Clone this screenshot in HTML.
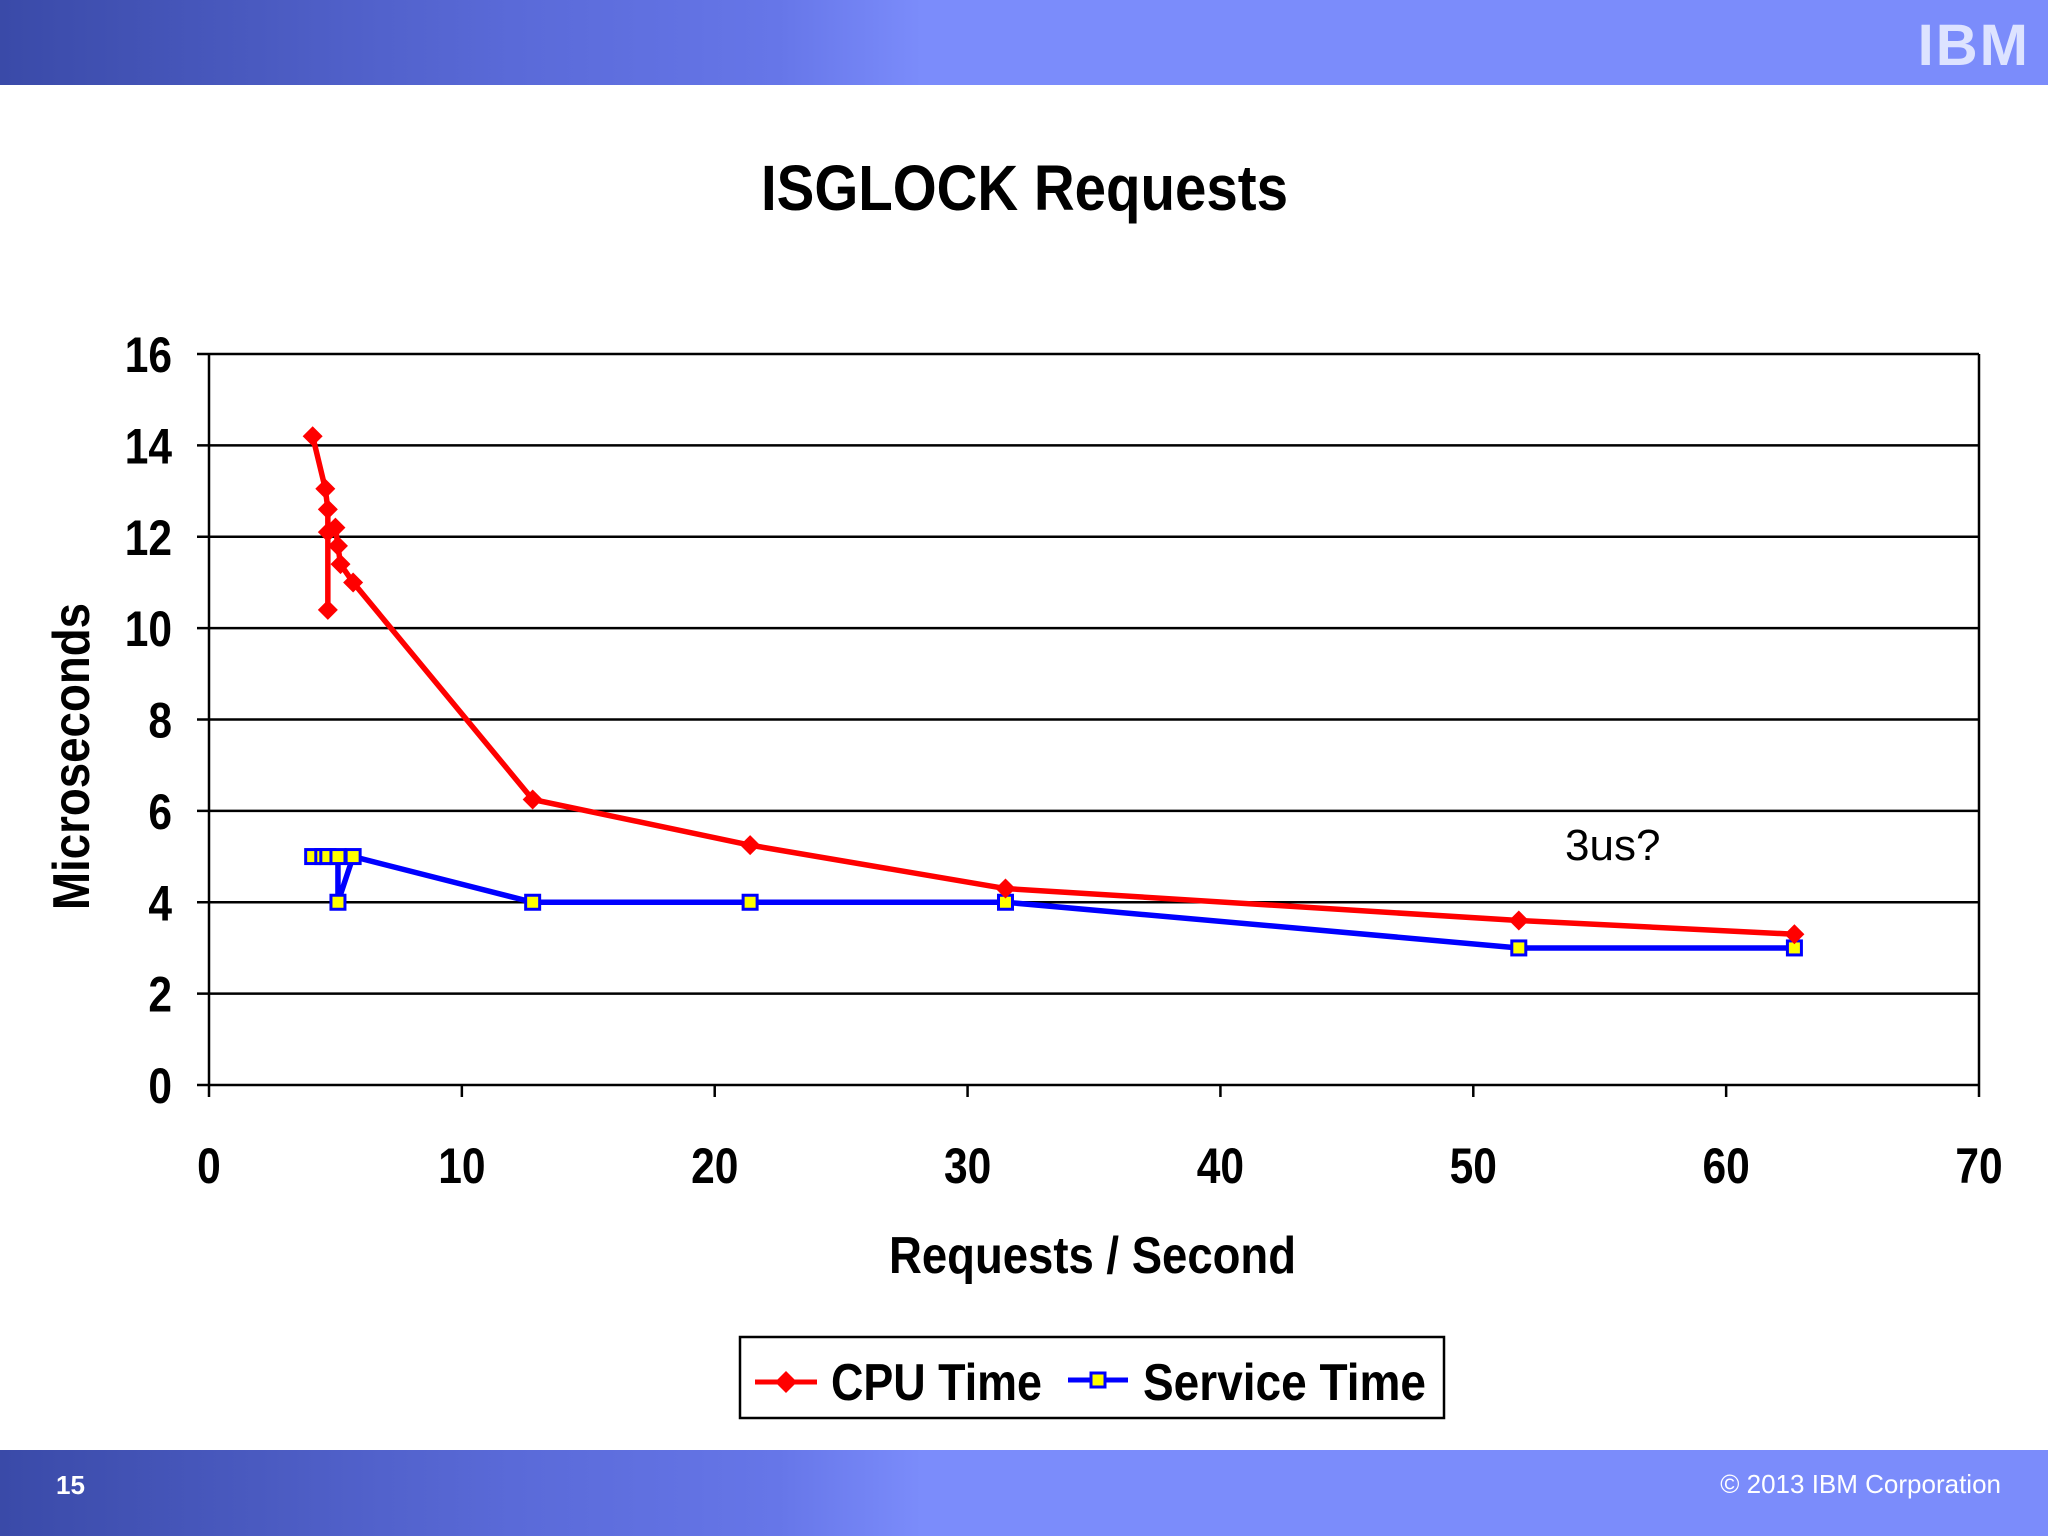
<!DOCTYPE html>
<html><head><meta charset="utf-8"><style>
html,body{margin:0;padding:0;background:#fff}
#wrap{position:relative;width:2048px;height:1536px;overflow:hidden;font-family:"Liberation Sans",sans-serif}
.hdr{position:absolute;left:0;width:2048px;background:#7b8cfb}
</style></head><body>
<div id="wrap">
<div class="hdr" style="top:0;height:85px;background:linear-gradient(90deg,#3a4aa8 0%,#5a6ad8 25%,#6676e8 38%,#7b8cfb 45%,#7b8cfb 100%)"></div>
<div style="position:absolute;right:18px;top:12px;font:bold 58px 'Liberation Sans',sans-serif;color:#dde3ff;letter-spacing:2px">IBM</div>
<div class="hdr" style="top:1450px;height:86px;background:linear-gradient(90deg,#3a4aa8 0%,#5a6ad8 25%,#6676e8 38%,#7b8cfb 45%,#7b8cfb 100%)"></div>
<div style="position:absolute;left:56px;top:1470px;color:#fff;font:bold 26px 'Liberation Sans',sans-serif">15</div>
<div style="position:absolute;right:47px;top:1469px;color:#fff;font:26px 'Liberation Sans',sans-serif">© 2013 IBM Corporation</div>
<svg id="chart" width="2048" height="1536" style="position:absolute;left:0;top:0"></svg>
</div>
<script>
const xTicks=[0,10,20,30,40,50,60,70];
const yTicks=[0,2,4,6,8,10,12,14,16];
const cpuX=[4.1,4.6,4.7,4.7,4.7,5.0,5.1,5.2,5.7,12.8,21.4,31.5,51.8,62.7];
const cpuY=[14.2,13.05,12.6,10.4,12.1,12.2,11.8,11.4,11.0,6.25,5.25,4.3,3.6,3.3];
const svcX=[4.1,4.5,4.7,5.1,5.1,5.7,12.8,21.4,31.5,51.8,62.7];
const svcY=[5,5,5,5,4,5,4,4,4,3,3];
const NS="http://www.w3.org/2000/svg";
const svg=document.getElementById('chart');
const X0=209,X1=1979,Y0=1085,Y1=354;
const sx=v=>X0+(v-0)/70*(X1-X0);
const sy=v=>Y0-(v/16)*(Y0-Y1);
function mk(tag,attrs,parent){const e=document.createElementNS(NS,tag);for(const k in attrs)e.setAttribute(k,attrs[k]);(parent||svg).appendChild(e);return e;}
const cond="font-family:'Liberation Sans',sans-serif;font-weight:bold";
let t=mk('text',{x:761,y:210,'font-size':64,style:cond,fill:'#000',textLength:527,lengthAdjust:'spacingAndGlyphs'});


t.textContent='ISGLOCK Requests';
yTicks.forEach(v=>{
 let l=mk('line',{x1:X0-12,x2:X1,y1:sy(v),y2:sy(v),stroke:'#000','stroke-width':2.5});
 
 
 let tx=mk('text',{x:0,y:0,'text-anchor':'end','font-size':50,style:cond,transform:`translate(172,${sy(v)+18}) scale(0.85,1)`});
 
 
 tx.textContent=v;
});
xTicks.forEach(v=>{
 let l=mk('line',{x1:sx(v),x2:sx(v),y1:Y0,y2:Y0+12,stroke:'#000','stroke-width':2.5});
 
 
 let tx=mk('text',{x:0,y:0,'text-anchor':'middle','font-size':50,style:cond,transform:`translate(${sx(v)},1183) scale(0.85,1)`});
 
 
 tx.textContent=v;
});
let ax=mk('line',{x1:X0,x2:X0,y1:Y1,y2:Y0,stroke:'#000','stroke-width':2.5});


let ax2=mk('line',{x1:X1,x2:X1,y1:Y1,y2:Y0,stroke:'#000','stroke-width':2.5});


let xt=mk('text',{x:889,y:1273,'font-size':52,style:cond,textLength:407,lengthAdjust:'spacingAndGlyphs'});


xt.textContent='Requests / Second';
let yt=mk('text',{x:0,y:0,'font-size':52,style:cond,transform:'translate(89,910) rotate(-90)',textLength:307,lengthAdjust:'spacingAndGlyphs'});


yt.textContent='Microseconds';
function diamond(cx,cy,r,g){return mk('polygon',{points:`${cx},${cy-r} ${cx+r},${cy} ${cx},${cy+r} ${cx-r},${cy}`,fill:'#f00'},g);}
function square(cx,cy,g){return mk('rect',{x:cx-7,y:cy-7,width:14,height:14,fill:'#ff0',stroke:'#00f','stroke-width':3},g);}
let gs=mk('g',{});


let ps=mk('polyline',{points:svcX.map((x,i)=>sx(x)+','+sy(svcY[i])).join(' '),fill:'none',stroke:'#00f','stroke-width':5.5},gs);


svcX.forEach((x,i)=>{let s=square(sx(x),sy(svcY[i]),gs);
 
 });
let gc=mk('g',{});


let pc=mk('polyline',{points:cpuX.map((x,i)=>sx(x)+','+sy(cpuY[i])).join(' '),fill:'none',stroke:'#f00','stroke-width':5.5},gc);


cpuX.forEach((x,i)=>{let d=diamond(sx(x),sy(cpuY[i]),10,gc);
 
 });
let an=mk('text',{x:1565,y:860,'font-size':44,fill:'#000',style:"font-family:'Liberation Sans',sans-serif"});


an.textContent='3us?';
let lg=mk('g',{});


mk('rect',{x:740,y:1337,width:704,height:81,fill:'#fff',stroke:'#000','stroke-width':2.5},lg);
mk('line',{x1:755,x2:817,y1:1382,y2:1382,stroke:'#f00','stroke-width':5},lg);
diamond(786,1382,11,lg);
let l1=mk('text',{x:831,y:1400,'font-size':52,style:cond,textLength:211,lengthAdjust:'spacingAndGlyphs'},lg);


l1.textContent='CPU Time';
mk('line',{x1:1068,x2:1128,y1:1380,y2:1380,stroke:'#00f','stroke-width':5},lg);
square(1098,1380,lg);
let l2=mk('text',{x:1143,y:1400,'font-size':52,style:cond,textLength:283,lengthAdjust:'spacingAndGlyphs'},lg);


l2.textContent='Service Time';
</script>
</body></html>
